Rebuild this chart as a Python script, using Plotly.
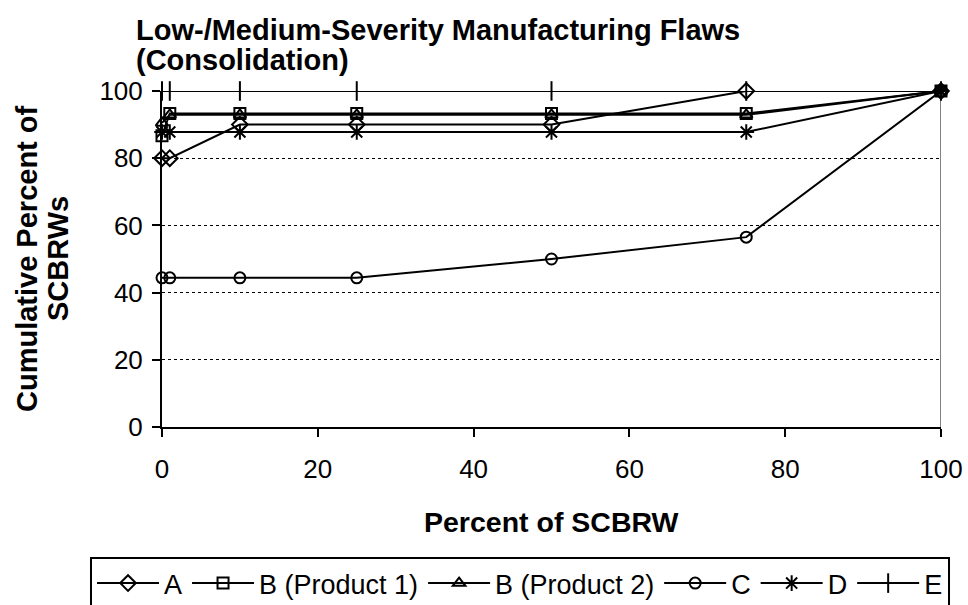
import plotly.graph_objects as go

# Percent of SCBRW (x) and cumulative percent of SCBRWs (y) for each group
pct_scbrw = [0, 1, 10, 25, 50, 75, 100]
series_names = ["A", "B (Product 1)", "B (Product 2)", "C", "D", "E"]
vals_a = [80, 80, 90, 90, 90, 100, 100]
vals_b1 = [86.7, 93.3, 93.3, 93.3, 93.3, 93.3, 100]
vals_b2 = [90.5, 92.9, 92.9, 92.9, 92.9, 92.9, 100]
vals_c = [44.4, 44.4, 44.4, 44.4, 50, 56.5, 100]
vals_d = [87.8, 87.8, 87.8, 87.8, 87.8, 87.8, 100]
vals_e = [100, 100, 100, 100, 100, 100, 100]
y_ticks = [0, 20, 40, 60, 80, 100]
x_ticks = [0, 20, 40, 60, 80, 100]

title_lines = ["Low-/Medium-Severity Manufacturing Flaws", "(Consolidation)"]
y_title_lines = ["Cumulative Percent of", "SCBRWs"]
x_title = "Percent of SCBRW"

FONT = "Liberation Sans, Arial, sans-serif"

styles = [
    dict(symbol="diamond-open", size=12),
    dict(symbol="square-open", size=11),
    dict(symbol="triangle-up-open", size=11),
    dict(symbol="circle-open", size=11),
    dict(symbol="asterisk-open", size=13),
    dict(symbol="line-ns-open", size=14),
]
all_vals = [vals_a, vals_b1, vals_b2, vals_c, vals_d, vals_e]

fig = go.Figure()
for name, vals, st in zip(series_names, all_vals, styles):
    fig.add_trace(go.Scatter(
        x=pct_scbrw, y=vals, name=name, mode="lines+markers",
        line=dict(color="black", width=2),
        marker=dict(symbol=st["symbol"], size=st["size"], color="black",
                    line=dict(color="black", width=2)),
        cliponaxis=False,
    ))

# grey frame on the right side of the plot area
fig.add_shape(type="line", xref="x", yref="y", x0=100, x1=100, y0=0, y1=100,
              line=dict(color="#808080", width=2), layer="below")

axis_common = dict(
    showline=True, linecolor="black", linewidth=2,
    ticks="outside", ticklen=8, tickwidth=2, tickcolor="black",
    tickfont=dict(family=FONT, size=26, color="black"),
    zeroline=False, automargin=False,
)
fig.update_xaxes(range=[0, 100], tickvals=x_ticks, showgrid=False, ticklabelstandoff=10,
                 **axis_common)
fig.update_yaxes(range=[0, 100], tickvals=y_ticks, showgrid=True, gridcolor="black",
                 griddash="dot", gridwidth=1, ticklabelstandoff=4, **axis_common)

title_font = dict(family=FONT, size=29, color="black")
axis_title_font = dict(family=FONT, size=28.5, color="black")
annotations = [
    dict(text=f"<b>{title_lines[0]}</b>", xref="paper", yref="paper", x=-0.036, y=1.0,
         xanchor="left", yanchor="middle", yshift=61, showarrow=False, font=title_font),
    dict(text=f"<b>{title_lines[1]}</b>", xref="paper", yref="paper", x=-0.036, y=1.0,
         xanchor="left", yanchor="middle", yshift=31, showarrow=False, font=title_font),
    dict(text=f"<b>{x_title}</b>", xref="paper", yref="paper",
         x=0.5, y=0, xanchor="center", yanchor="middle", yshift=-95,
         showarrow=False, font=axis_title_font),
    dict(text=f"<b>{y_title_lines[0]}</b>", xref="paper", yref="paper",
         x=0, y=0.5, xanchor="center", yanchor="middle", xshift=-135,
         textangle=-90, showarrow=False, font=title_font),
    dict(text=f"<b>{y_title_lines[1]}</b>", xref="paper", yref="paper",
         x=0, y=0.5, xanchor="center", yanchor="middle", xshift=-104,
         textangle=-90, showarrow=False, font=title_font),
]

fig.update_layout(
    width=968, height=605,
    margin=dict(l=162, r=27, t=91, b=178, autoexpand=False),
    plot_bgcolor="white", paper_bgcolor="white",
    font=dict(family=FONT, color="black"),
    showlegend=True,
    legend=dict(
        orientation="h", x=-0.0924, xanchor="left", xref="paper",
        y=-0.387, yanchor="top", yref="paper",
        bordercolor="black", borderwidth=2,
        font=dict(family=FONT, size=27, color="black"),
        itemwidth=62, tracegroupgap=0,
    ),
    annotations=annotations,
)

fig.write_html("out.html")
